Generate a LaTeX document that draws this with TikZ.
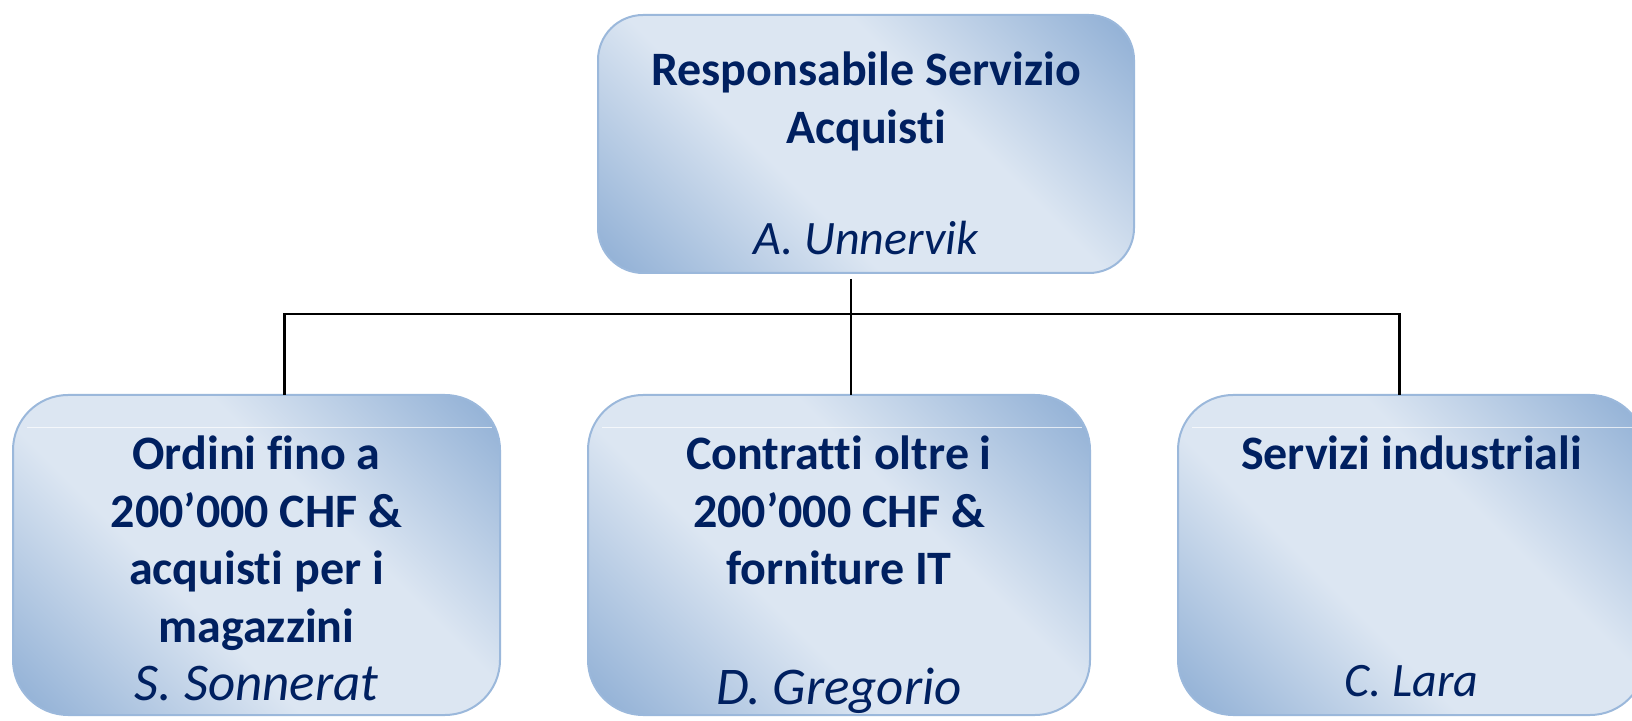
\documentclass[tikz,border=0pt]{standalone}
\usepackage{fontspec}
\setmainfont{Carlito}[Ligatures=NoCommon]
\usepackage{xcolor}
\usetikzlibrary{positioning}

\definecolor{navy}{RGB}{0,32,96}
\definecolor{boxdark}{RGB}{149,179,215}
\definecolor{boxlight}{RGB}{220,230,242}
\definecolor{boxedge}{RGB}{155,184,219}

% soft diagonal glow: dark in two corners, light band in between
\pgfdeclareverticalshading{glow}{100bp}{color(0bp)=(boxdark); color(17bp)=(boxdark); color(40bp)=(boxlight); color(60bp)=(boxlight); color(83bp)=(boxdark); color(100bp)=(boxdark)}

\tikzset{
  unit/.style={rounded corners=55pt, draw=boxedge, line width=2pt,
    shading=glow, shading angle=-45,
    inner sep=0pt, outer sep=0pt, minimum height=320pt},
  title/.style={text=navy, font=\bfseries\fontsize{48}{57.5}\selectfont, align=center, inner sep=0pt},
  who/.style={text=navy, font=\itshape\fontsize{48}{57.5}\selectfont, inner sep=0pt},
  bigwho/.style={who, font=\itshape\fontsize{53}{60}\selectfont},
  link/.style={black, line width=2.5pt}
}

\begin{document}
\begin{tikzpicture}[x=1pt, y=1pt]
    \useasboundingbox (0,0) rectangle (1632,720);

    % Boxes
    \node[unit, rounded corners=45pt, minimum width=536pt, minimum height=258pt, anchor=north west] (capo) at (598,705) {};
    \node[unit, minimum width=487pt, anchor=north west] (ordini) at (13,325) {};
    \node[unit, minimum width=502pt, right=88pt of ordini] (contratti) {};
    \node[unit, minimum width=467pt, right=88pt of contratti] (servizi) {};

    % Thin light line near the top of each lower box
    \foreach \b in {ordini,contratti,servizi} {
      \draw[white, opacity=0.7, line width=0.8pt] ([xshift=14pt, yshift=-32pt]\b.north west) -- ([xshift=-8pt, yshift=-32pt]\b.north east);
    }

    % Texts
    \node[title, below=37pt of capo.north] (capotxt) {Responsabile Servizio\\Acquisti};
    \node[who, above=18pt of capo.south, anchor=base] (caponame) {A. Unnervik};

    \node[title, below=41pt of ordini.north] (ordinitxt) {Ordini fino a\\200’000 CHF \&\\acquisti per i\\magazzini};
    \node[bigwho, above=15pt of ordini.south, anchor=base] (ordininame) {S. Sonnerat};

    \node[title, below=41pt of contratti.north] (contrattitxt) {Contratti oltre i\\200’000 CHF \&\\forniture IT};
    \node[bigwho, above=11pt of contratti.south, anchor=base] (contrattiname) {D. Gregorio};

    \node[title, below=41pt of servizi.north] (servizitxt) {Servizi industriali};
    \node[who, above=19pt of servizi.south, anchor=base] (servizinome) {C. Lara};

    % Connectors
    \draw[link] ([xshift=-15pt, yshift=-6pt]capo.south) -- ([xshift=12pt]contratti.north);
    \draw[link] ([xshift=28pt]ordini.north) -- ++(0,81pt) -| ([xshift=-12pt]servizi.north);
\end{tikzpicture}
\end{document}
